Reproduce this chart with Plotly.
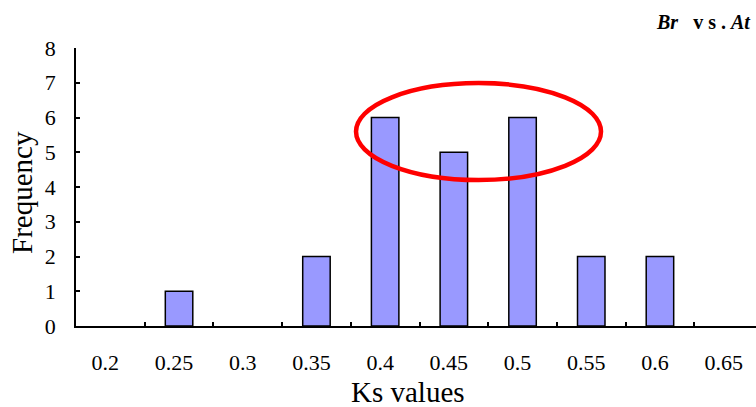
import plotly.graph_objects as go

categories = ["0.2", "0.25", "0.3", "0.35", "0.4", "0.45", "0.5", "0.55", "0.6", "0.65"]
frequency = [0, 1, 0, 2, 6, 5, 6, 2, 2, 0]

serif = "Liberation Serif"

W, H = 756, 407
L, R, T, B = 76, 0, 48, 81

fig = go.Figure()
fig.add_trace(go.Bar(
    x=categories, y=frequency,
    width=0.4,
    marker=dict(color="#9999FF",
                line=dict(color="black", width=[1.5 if v > 0 else 0 for v in frequency])),
))

fig.update_layout(
    width=W, height=H,
    margin=dict(l=L, r=R, t=T, b=B, autoexpand=False),
    paper_bgcolor="white", plot_bgcolor="white",
    showlegend=False,
    font=dict(family=serif, color="black"),
    xaxis=dict(
        type="category", automargin=False,
        range=[-0.5, -0.5 + (W - L) / 68.7],
        showline=True, linecolor="black", linewidth=1.5,
        ticks="inside", tickson="boundaries", ticklen=4, tickcolor="black", tickwidth=1.5,
        showgrid=False, zeroline=False,
        tickfont=dict(family=serif, size=22),
        ticklabelshift=-5,
        ticklabelstandoff=16,
    ),
    yaxis=dict(
        automargin=False,
        range=[0, 8], dtick=1,
        showline=True, linecolor="black", linewidth=1.5,
        ticks="inside", ticklen=4, tickcolor="black", tickwidth=1.5,
        showgrid=False, zeroline=False,
        tickfont=dict(family=serif, size=22),
        ticklabelstandoff=14,
    ),
)

fig.add_shape(
    type="circle", xref="x", yref="y",
    x0=3.576, x1=7.142, y0=4.2, y1=6.99,
    line=dict(color="#FF0000", width=4.5),
)

# axis titles
fig.add_annotation(
    xref="paper", yref="paper", x=(408 - L) / (W - L - R), y=-(392 - (H - B)) / (H - T - B),
    text="Ks values", showarrow=False, xanchor="center", yanchor="middle",
    font=dict(family=serif, size=29, color="black"),
)
fig.add_annotation(
    xref="paper", yref="paper", x=-(L - 22) / (W - L - R), y=((H - B) - 193) / (H - T - B),
    text="Frequency", showarrow=False, textangle=-90, xanchor="center", yanchor="middle",
    font=dict(family=serif, size=29, color="black"),
)

fig.add_annotation(
    xref="paper", yref="paper", x=1.0, y=1.0, xshift=-3, yshift=26, xanchor="right", yanchor="middle",
    text="<b><i>Br</i>&nbsp;&nbsp;&nbsp;v s .&nbsp;<i>At</i></b>",
    showarrow=False, font=dict(family=serif, size=20, color="black"),
)

fig.write_html(
    "out.html",
    config={"displayModeBar": False},
    post_script="document.body.style.margin='0';document.body.style.padding='0';",
)
